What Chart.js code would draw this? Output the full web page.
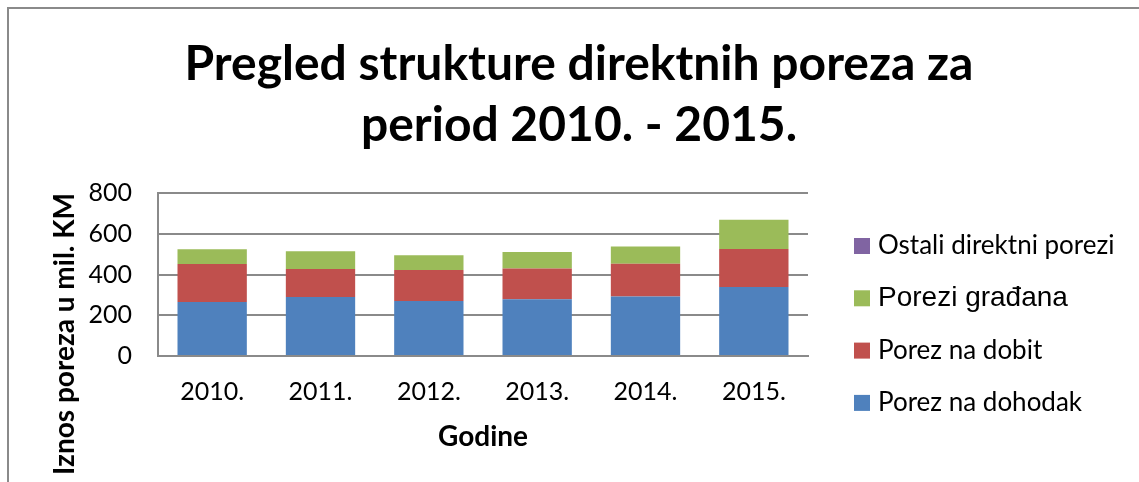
<!DOCTYPE html>
<html>
<head>
<meta charset="utf-8">
<script src="https://cdn.jsdelivr.net/npm/chart.js@4.4.1/dist/chart.umd.min.js"></script>
<style>
  html, body { margin: 0; padding: 0; background: #fff; }
  #wrap { position: relative; width: 1139px; height: 482px; }
</style>
</head>
<body>
<div id="wrap"><canvas id="taxChart" width="1139" height="482"></canvas></div>
<script>
// values (mil. KM)
const years = ['2010.', '2011.', '2012.', '2013.', '2014.', '2015.'];
const porezNaDohodak = [265, 290, 270, 278, 292, 339];
const porezNaDobit = [187, 137, 152, 151, 161, 186];
const poreziGradjana = [72, 87, 72, 81, 84, 144];
const ostaliDirektni = [0, 0, 0, 0, 0, 0];
const yTicks = [0, 200, 400, 600, 800];

const seriesNames = ['Porez na dohodak', 'Porez na dobit', 'Porezi građana', 'Ostali direktni porezi'];
const seriesColors = ['#4F81BD', '#C0504D', '#9BBB59', '#8064A2'];
const seriesValues = [porezNaDohodak, porezNaDobit, poreziGradjana, ostaliDirektni];
const titleLines = ['Pregled strukture direktnih poreza za', 'period 2010. - 2015.'];

const gridGray = '#8a8a8a';

// frame, title, rotated y title and the right-hand legend
const extras = {
    id: 'extras',
    beforeDraw(chart) {
        const ctx = chart.ctx;
        ctx.save();
        ctx.fillStyle = '#fff';
        ctx.fillRect(0, 0, chart.width, chart.height);
        ctx.strokeStyle = gridGray;
        ctx.lineWidth = 2;
        ctx.beginPath();
        ctx.moveTo(8, chart.height);
        ctx.lineTo(8, 8);
        ctx.lineTo(chart.width, 8);
        ctx.stroke();
        ctx.restore();
    },
    afterDraw(chart) {
        const ctx = chart.ctx;

        // chart title, centred over the whole frame
        ctx.save();
        ctx.font = 'bold 48px Lato';
        ctx.fillStyle = '#000';
        ctx.textAlign = 'center';
        ctx.textBaseline = 'alphabetic';
        titleLines.forEach((line, i) => ctx.fillText(line, 579, 80 + i * 61));
        ctx.restore();

        // y axis title
        ctx.save();
        ctx.translate(65, 334);
        ctx.rotate(-Math.PI / 2);
        ctx.font = 'bold 28px Lato';
        ctx.fillStyle = '#000';
        ctx.textAlign = 'center';
        ctx.textBaseline = 'middle';
        ctx.fillText('Iznos poreza u mil. KM', 0, 0);
        ctx.restore();

        // legend, reversed like the stack
        ctx.save();
        const order = [3, 2, 1, 0];
        order.forEach((di, i) => {
            const ds = chart.data.datasets[di];
            const cy = 246 + i * 52.3;
            ctx.fillStyle = ds.backgroundColor;
            ctx.fillRect(854, cy - 8, 16, 16);
            ctx.fillStyle = '#000';
            ctx.textBaseline = 'middle';
            ctx.textAlign = 'left';
            ctx.font = di === 2 ? '28px "Liberation Sans"' : '26px Lato';
            ctx.fillText(ds.label, 878, cy);
        });
        ctx.restore();
    }
};

const ctx = document.getElementById('taxChart').getContext('2d');
const taxChart = new Chart(ctx, {
    type: 'bar',
    data: {
        labels: years,
        datasets: seriesValues.map((vals, i) => ({
            label: seriesNames[i],
            data: vals,
            backgroundColor: seriesColors[i],
            borderWidth: 0,
            categoryPercentage: 0.64,
            barPercentage: 1
        }))
    },
    options: {
        responsive: false,
        animation: false,
        devicePixelRatio: 1,
        layout: {
            padding: { left: 8, right: 331, top: 193, bottom: 0 }
        },
        plugins: {
            legend: { display: false },
            tooltip: { enabled: false },
            title: { display: false }
        },
        scales: {
            x: {
                stacked: true,
                afterFit(scale) { scale.height = 126; },
                grid: { display: false, drawTicks: false },
                border: { display: true, color: gridGray, width: 2 },
                ticks: {
                    color: '#000',
                    font: { family: 'Lato', size: 25 },
                    padding: 21
                },
                title: {
                    display: true,
                    text: 'Godine',
                    color: '#000',
                    font: { family: 'Lato', size: 28, weight: 'bold' },
                    padding: { top: 0, bottom: 28 }
                }
            },
            y: {
                stacked: true,
                min: 0,
                max: 800,
                afterFit(scale) { scale.width = 150; },
                afterBuildTicks(scale) { scale.ticks = yTicks.map(v => ({ value: v })); },
                grid: { color: gridGray, lineWidth: 2, drawTicks: false },
                border: { display: true, color: gridGray, width: 2 },
                ticks: {
                    color: '#000',
                    font: { family: 'Lato', size: 25 },
                    padding: 26
                }
            }
        }
    },
    plugins: [extras]
});
</script>
</body>
</html>
